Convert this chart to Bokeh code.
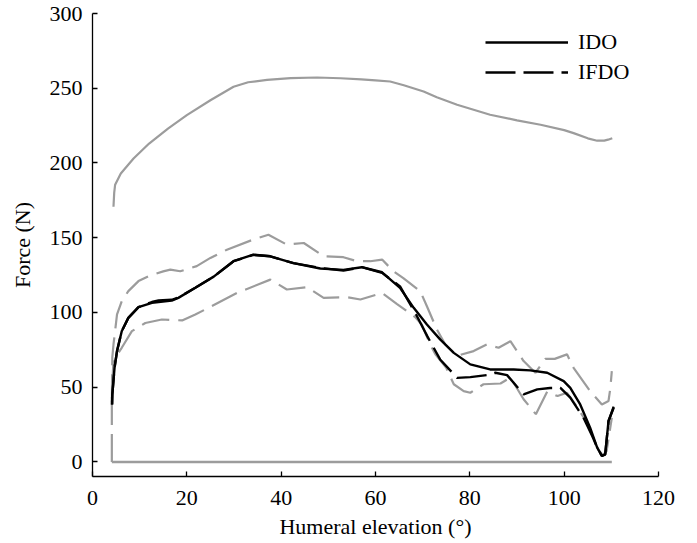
from bokeh.plotting import figure
from bokeh.models import Range1d, Legend, LegendItem, FixedTicker
from bokeh.embed import file_html
from bokeh.resources import INLINE

# ---- data ----
ido_x = [4.15, 4.2, 4.67, 5.2, 6.2, 7.6, 9.75, 12.6, 16.8, 18.2, 21.8, 25.7, 29.9, 34.1, 37.7,
         42.6, 48.3, 53.2, 57.1, 61.4, 65.2, 68.1, 70.9, 73.7, 76.6, 80.1, 84.3, 89.3, 92.8,
         96.4, 99.9, 101.3, 103.4, 105.5, 107.0, 108.0, 108.7, 109.4, 110.5]
ido_y = [38.5, 45, 63, 74.2, 87.5, 96.4, 103.6, 106.4, 108, 109.8, 116.5, 124, 134.3, 138.7, 137.6,
         133, 129.4, 128.5, 130.3, 126.9, 116.5, 103.1, 92, 82, 73, 65.3, 61.9, 61.9, 61.3,
         59.7, 54.1, 49.6, 38.5, 23, 9.6, 4, 5.1, 27.4, 36.3]

ifdo_x = [4.15, 4.2, 4.67, 5.2, 6.2, 7.6, 9.75, 12.6, 14.0, 16.8, 18.2, 21.8, 25.7, 29.9, 34.1,
          37.7, 42.6, 48.3, 53.2, 57.1, 61.4, 65.2, 68.8, 71.0, 73.7, 77.3, 80.1, 83.6, 85.4,
          87.9, 91.4, 94.3, 97.0, 99.2, 101.3, 104.1, 106.0, 107.0, 108.0, 108.7, 109.4, 110.5]
ifdo_y = [38.5, 45, 63, 74.2, 87.5, 96.4, 103.6, 107, 108, 108.5, 110, 116.5, 124, 134.3, 138.5,
          137.6, 133, 129.8, 128, 130.3, 126.5, 117.5, 97.5, 84, 68.6, 56.3, 56.8, 58.1, 59.7,
          58.1, 45.2, 48.6, 49.5, 49.6, 43, 29.6, 17, 9.6, 4, 5.1, 27.4, 37]

upper_x = [4.45, 4.6, 4.8, 6.0, 8.7, 12, 16, 20, 25, 29.9, 33, 37, 42, 47.6, 52.6, 57, 60, 63.1,
           66, 70.2, 73, 77.3, 84.3, 90, 95, 100, 102, 105, 107, 108.5, 109.3, 110.2]
upper_y = [170.7, 180, 185.5, 193, 203, 213, 223, 232, 242, 251, 254, 255.6, 256.8, 257.2, 256.7,
           256, 255.3, 254.5, 252, 247.8, 244, 239, 232.3, 228.5, 225.6, 222, 220, 216.5, 214.9,
           215, 215.6, 216.6]

lower_x = [4.1, 110.1]
lower_y = [0, 0]

sd_hi_x = [4.1, 4.2, 4.45, 5.2, 6.2, 7.6, 9.75, 12, 15, 16.5, 18.6, 22.1, 25, 28.5, 34.1, 37.3,
           41.2, 44.8, 49, 53.2, 56.1, 58.9, 61.4, 63.8, 65.9, 69.5, 70.9, 73, 74.8, 77.3, 80.8,
           83.6, 86.1, 88.6, 91.4, 93.9, 96, 98, 100.6, 102, 105.5, 108, 109.4, 109.8, 110.1]
sd_hi_y = [40, 70, 78.6, 98.7, 107.6, 114.3, 121, 124.5, 127.5, 128.7, 127.6, 131, 136.5, 142,
           148.8, 152, 145.4, 146.5, 137.6, 137, 134.3, 134.3, 135.4, 127.6, 123, 114.2, 104.2,
           88.7, 78.6, 71, 74.2, 78.6, 76.4, 80.8, 67.5, 59.7, 69, 69, 72, 63, 47.4, 38.5, 40.8,
           49.6, 60.8]

sd_lo_x = [4.1, 4.1, 4.4, 4.8, 6.2, 8.35, 11.2, 14.7, 19, 21.8, 23.9, 30.6, 37.7, 41.2, 45.5, 49,
           54, 56.8, 61.4, 64.5, 68.4, 69.8, 71.6, 72.7, 75, 76.6, 78.7, 80.1, 82.9, 86.5, 88.6,
           91.4, 94, 96.4, 98.6, 100.6, 102.7, 104.6, 107.3, 108.2, 109, 110.1]
sd_lo_y = [0, 45, 65, 69.7, 76.4, 87.5, 93, 95.3, 94.7, 98.7, 102, 113, 122, 115.4, 116.9, 109.8,
           110.2, 108.7, 113.1, 105.8, 96.9, 92, 78.6, 72, 63, 52, 47.4, 46.3, 52, 52.5, 56.5,
           42, 32, 47, 44.1, 46.3, 37, 27.4, 8, 4.5, 7.3, 29.6]

x_ticks = [0, 20, 40, 60, 80, 100, 120]
y_ticks = [0, 50, 100, 150, 200, 250, 300]

FONT = "Liberation Serif"
GRAY = "#9c9c9c"

p = figure(width=690, height=543, output_backend="svg", toolbar_location=None,
           x_range=Range1d(0, 120), y_range=Range1d(-9.7, 300),
           min_border_left=92, min_border_right=32, min_border_top=13, min_border_bottom=67)
p.outline_line_color = None
p.xgrid.visible = False
p.ygrid.visible = False
p.background_fill_color = "white"

p.line(upper_x, upper_y, line_color=GRAY, line_width=2.2)
p.line(lower_x, lower_y, line_color=GRAY, line_width=2.6)
p.line(sd_hi_x, sd_hi_y, line_color=GRAY, line_width=2.2, line_dash="28 9")
p.line(sd_lo_x, sd_lo_y, line_color=GRAY, line_width=2.2, line_dash="28 9")
r_ido = p.line(ido_x, ido_y, line_color="black", line_width=2.4)
r_ifdo = p.line(ifdo_x, ifdo_y, line_color="black", line_width=2.4, line_dash="30 8")

for ax in (p.xaxis[0], p.yaxis[0]):
    ax.axis_line_color = "black"
    ax.axis_line_width = 1.3
    ax.major_tick_line_color = "black"
    ax.major_tick_line_width = 1.3
    ax.major_tick_in = 5
    ax.major_tick_out = 0
    ax.minor_tick_line_color = None
    ax.major_label_text_font = FONT
    ax.major_label_text_font_size = "22px"
    ax.major_label_text_color = "black"
    ax.axis_label_text_font = FONT
    ax.axis_label_text_font_size = "22px"
    ax.axis_label_text_font_style = "normal"
    ax.axis_label_text_color = "black"

p.xaxis.ticker = FixedTicker(ticks=x_ticks)
p.yaxis.ticker = FixedTicker(ticks=y_ticks)
p.xaxis.axis_label = "Humeral elevation (°)"
p.yaxis.axis_label = "Force (N)"
p.xaxis.major_label_standoff = 14
p.xaxis.axis_label_standoff = 6
p.yaxis.major_label_standoff = 10
p.yaxis.axis_label_standoff = 12

legend = Legend(items=[LegendItem(label="IDO", renderers=[r_ido]),
                       LegendItem(label="IFDO", renderers=[r_ifdo])],
                location=(393, 391))
legend.border_line_color = None
legend.background_fill_alpha = 0
legend.margin = 0
legend.padding = 0
legend.glyph_width = 83
legend.glyph_height = 26
legend.label_height = 26
legend.label_standoff = 10
legend.spacing = 4
legend.label_text_font = FONT
legend.label_text_font_size = "22px"
legend.label_text_color = "black"
p.add_layout(legend)

open("out.html", "w").write(file_html(p, INLINE))
